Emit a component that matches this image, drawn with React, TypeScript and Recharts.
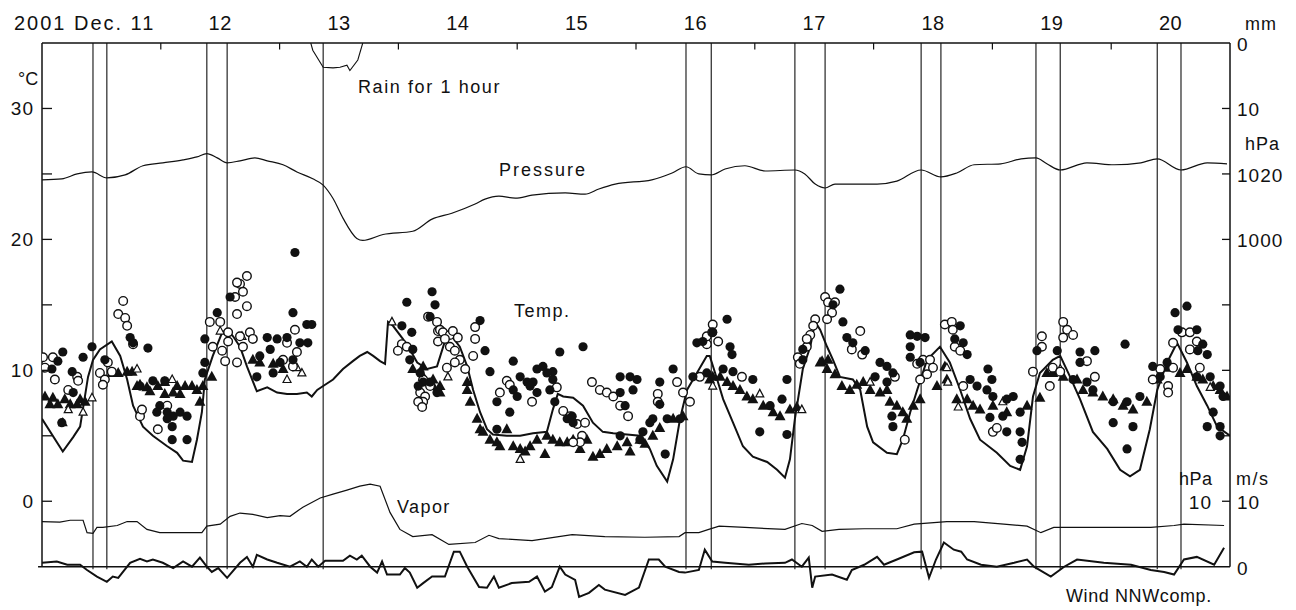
import { ComposedChart, Line, Scatter, XAxis, YAxis, ReferenceLine } from 'recharts'

// hours from Dec 11 00:00
const dayTicks = [12, 36, 60, 84, 108, 132, 156, 180, 204, 228]
const dayLabels = ['2001 Dec. 11', '12', '13', '14', '15', '16', '17', '18', '19', '20']
const midnightTicks = [24, 48, 72, 96, 120, 144, 168, 192, 216]
const sunLines = [10.3, 13.1, 33.3, 37.4, 56.8, 130.1, 135.2, 152.1, 158.2, 177.6, 181.6, 200.8, 205.7, 225.3, 230.1]

const leftTicks = [-5, 0, 5, 10, 15, 20, 25, 30, 35]
const leftTickLabels = ['', '0', '', '10', '', '20', '', '30', '']
// right axis shares the temperature scale: 35 = 0 mm, 25 = 1020 hPa, -5 = 0 hPa / 0 m/s
const rightTicks = [35, 30, 25, 20, 15, 10, 5, 0, -5]
const rightTickLabels = ['0', '10', '1020', '1000', '', '', '', '10', '0']
const rightInnerLabels = ['', '', '', '', '', '', '', '10', '']

const rainPoints = [[54.3, 0], [54.7, 1.1], [56.8, 3.7], [58.8, 3.8], [60.2, 3.7], [61.6, 3.4], [62.2, 4.2], [63.8, 2.6], [64.8, 0]]

const pressurePoints = [
  [0, 1018.2], [4.0, 1018.5], [7.1, 1020.0], [10.1, 1020.6], [13.1, 1018.8], [16.8, 1019.7], [20.4, 1022.5],
  [24.4, 1023.4], [28.5, 1024.3], [31.3, 1025.2], [33.3, 1026.2], [35.4, 1024.9], [37.4, 1023.4], [40.0, 1024.0],
  [43.0, 1024.9], [45.5, 1024.0], [48.7, 1022.8], [51.5, 1020.6], [54.7, 1018.5], [56.8, 1016.6], [58.8, 1012.5],
  [60.8, 1006.5], [63.6, 1000.3], [64.8, 999.7], [68.9, 1001.5], [74.9, 1002.5], [78.8, 1006.2], [82.8, 1008.0],
  [87.5, 1010.8], [89.5, 1012.3], [92.3, 1013.2], [95.6, 1012.6], [99.0, 1013.5], [105.7, 1014.2], [109.7, 1013.8],
  [112.5, 1015.4], [115.8, 1016.9], [123.2, 1018.2], [127.3, 1020.3], [130.1, 1022.2], [132.7, 1020.0],
  [135.2, 1019.7], [138.0, 1021.5], [142.0, 1022.5], [146.1, 1020.9], [152.1, 1021.2], [154.1, 1020.0],
  [156.2, 1016.9], [158.2, 1015.7], [160.2, 1016.9], [166.1, 1016.9], [168.7, 1016.9], [172.7, 1017.8],
  [177.6, 1021.2], [181.6, 1019.1], [184.8, 1020.3], [188.3, 1022.8], [193.7, 1023.1], [197.8, 1024.6],
  [200.8, 1024.9], [203.0, 1023.1], [205.7, 1021.2], [211.1, 1023.4], [216.6, 1022.8], [222.0, 1023.4],
  [225.3, 1024.6], [230.1, 1021.2], [235.4, 1023.4], [239.4, 1023.1],
]

const vaporPoints = [
  [0, 6.9], [3.6, 6.8], [5.7, 7.1], [8.3, 7.1], [9.1, 5.2], [10.3, 5.1], [11.1, 6.0], [12.3, 6.0], [15.2, 6.3],
  [17.2, 6.9], [19.2, 6.9], [21.2, 5.7], [23.8, 5.2], [26.5, 5.2], [30.3, 5.2], [32.3, 5.2], [33.3, 6.2], [36.0, 6.5],
  [38.0, 7.7], [40.0, 8.2], [42.6, 8.0], [45.5, 7.5], [48.1, 7.8], [50.1, 7.7], [52.7, 9.1], [56.2, 10.5],
  [58.8, 11.1], [61.6, 11.7], [64.2, 12.3], [66.3, 12.6], [68.3, 12.3], [70.3, 8.3], [72.3, 5.7], [74.9, 4.6],
  [78.8, 4.9], [82.2, 3.4], [87.5, 3.7], [90.3, 4.8], [92.3, 4.3], [99.0, 4.0], [107.1, 4.9], [113.7, 4.6],
  [121.8, 4.5], [128.7, 4.6], [129.9, 5.2], [132.7, 5.2], [134.7, 5.7], [136.8, 6.2], [142.0, 6.0], [150.1, 5.7],
  [153.5, 6.6], [155.6, 6.3], [157.6, 5.4], [161.0, 5.7], [166.1, 5.8], [172.7, 5.8], [176.2, 6.5], [182.8, 6.9],
  [188.3, 6.9], [194.3, 6.5], [199.0, 6.2], [201.8, 5.2], [204.4, 6.0], [213.1, 6.0], [224.0, 6.0], [228.7, 6.3],
  [230.7, 6.5], [238.8, 6.3],
]

const windPoints = [
  [0, 0.6], [3.0, 0.8], [5.1, 0.3], [7.7, 0.3], [9.1, -0.5], [11.1, -1.5], [13.1, -2.3], [14.3, -1.5], [15.4, -1.7],
  [17.8, 0.6], [19.8, 1.2], [21.2, 0.8], [22.4, 1.1], [24.4, 0.6], [26.5, -0.2], [28.5, 0.8], [30.3, 0], [31.9, 1.4],
  [33.3, 0], [34.3, -0.8], [35.6, -0.2], [37.4, -1.7], [40.0, 0.6], [41.4, 1.5], [42.6, 0], [43.4, 1.8], [45.5, 1.1],
  [47.5, 0.6], [50.1, 0], [52.1, 0.8], [53.5, 0], [54.5, 1.1], [55.8, 0], [57.2, 0.9], [60.8, 0.9], [62.2, 1.7],
  [63.6, 1.1], [64.6, 1.7], [66.3, 0], [67.7, -0.9], [68.7, 0.8], [69.7, -1.2], [72.3, -1.2], [73.3, -0.2],
  [74.3, -0.9], [75.8, -3.2], [77.0, -2.5], [78.8, -1.5], [81.4, -1.5], [83.2, 2.3], [84.4, 2.3], [85.9, 0],
  [88.3, -3.1], [89.9, -3.2], [91.3, -1.5], [92.3, -3.2], [94.9, -2.5], [98.4, -2.3], [100.0, -1.5], [101.6, -3.8],
  [103.0, -3.1], [104.6, 0], [105.7, -1.2], [107.7, -2.0], [108.5, -4.6], [110.5, -4.0], [112.5, -2.8],
  [113.7, -3.5], [117.8, -4.3], [120.6, -3.2], [122.6, 1.1], [124.6, 1.1], [125.9, 0], [128.7, -0.8], [129.9, -0.9],
  [132.7, -0.5], [133.9, 2.6], [135.4, 0.8], [138.0, 0.6], [142.8, 0.3], [146.1, 0.5], [150.1, 0.6], [151.5, 1.1],
  [153.5, 0], [154.9, 1.4], [155.6, -3.2], [156.2, -1.5], [159.6, -1.2], [162.6, -2.0], [163.6, -0.5], [166.1, 0.3],
  [168.7, 1.5], [170.1, 0.3], [172.7, 1.1], [176.2, 2.2], [177.8, 2.3], [179.2, -1.7], [180.6, 1.1], [182.2, 3.7],
  [184.2, 2.6], [185.7, 2.3], [186.9, 1.1], [189.7, 0.3], [192.9, 0], [196.4, 0.6], [199.0, 1.1], [200.4, 0],
  [203.8, -1.5], [206.5, 0], [209.1, 1.1], [214.5, 0.6], [220.0, 0.3], [224.0, -0.5], [226.7, -0.8], [228.7, -1.2],
  [230.7, 1.1], [233.3, 1.5], [236.8, 0.3], [238.8, 2.9],
]

const tempLinePoints = [
  [0, 6.3], [4.2, 3.8], [6.3, 4.9], [7.7, 5.7], [9.3, 9.5], [10.3, 10.8], [11.7, 11.6], [14.1, 12.2], [15.8, 11.1],
  [17.2, 9.3], [18.4, 7.3], [20.4, 5.7], [22.4, 5.0], [25.3, 4.2], [27.3, 3.7], [28.5, 3.1], [30.3, 3.0], [31.3, 4.7],
  [32.3, 6.8], [32.9, 9.3], [34.5, 11.1], [36.4, 12.9], [37.4, 13.1], [38.6, 12.6], [40.0, 11.8], [41.4, 10.3],
  [43.4, 8.4], [45.5, 8.7], [47.5, 8.3], [49.5, 8.2], [51.5, 8.2], [53.5, 8.3], [54.5, 8.0], [55.6, 8.5], [56.8, 8.8],
  [58.8, 9.3], [60.8, 10.1], [62.8, 10.7], [64.2, 11.1], [65.7, 11.4], [66.9, 11.1], [68.3, 10.7], [69.3, 10.5],
  [69.9, 13.7], [70.9, 13.4], [72.9, 12.4], [74.3, 11.6], [75.8, 10.6], [77.8, 10.1], [79.8, 10.3], [81.8, 12.7],
  [83.0, 12.5], [84.4, 11.8], [85.9, 10.3], [87.1, 8.5], [88.5, 6.8], [89.9, 5.5], [91.1, 5.1], [93.9, 5.0],
  [96.6, 5.0], [99.2, 5.2], [102.0, 5.3], [103.2, 7.0], [104.2, 8.2], [105.3, 8.0], [107.3, 7.9], [109.3, 7.3],
  [111.3, 6.0], [113.3, 5.3], [115.4, 5.2], [118.2, 5.1], [120.8, 5.0], [122.8, 4.0], [124.2, 2.7], [126.3, 1.5],
  [127.5, 3.2], [128.9, 6.3], [130.3, 8.5], [132.3, 9.8], [134.3, 11.1], [134.9, 11.1], [136.4, 9.3], [137.6, 7.8],
  [139.6, 6.0], [141.6, 4.2], [143.6, 3.4], [146.5, 3.0], [148.5, 2.4], [150.1, 1.8], [151.1, 3.2], [152.1, 6.3],
  [153.7, 10.1], [155.2, 11.8], [156.2, 13.7], [157.2, 13.1], [158.6, 11.8], [159.8, 10.8], [161.2, 9.5],
  [163.8, 9.3], [165.3, 8.5], [166.7, 5.7], [167.9, 4.5], [170.7, 3.7], [172.7, 3.6], [173.9, 4.7], [175.4, 6.8],
  [176.8, 8.5], [178.8, 10.8], [181.4, 11.8], [183.4, 10.6], [185.5, 8.5], [187.5, 6.3], [189.5, 4.7], [192.9, 3.7],
  [195.6, 2.7], [197.6, 2.4], [199.0, 4.2], [200.2, 8.0], [201.6, 9.8], [204.2, 10.8], [205.7, 11.1], [207.7, 9.5],
  [209.7, 7.8], [212.3, 5.3], [215.2, 4.0], [217.8, 2.4], [219.8, 1.9], [221.8, 2.4], [223.8, 5.5], [225.3, 8.5],
  [227.3, 10.6], [229.3, 12.1], [231.3, 10.6], [233.3, 8.8], [235.4, 7.3], [237.4, 5.7], [240, 5.0],
]

const filledCircles = [
  [4.2, 11.4], [3.2, 10.7], [2.0, 10.1], [6.1, 9.9], [8.3, 11.0], [10.1, 11.8], [6.3, 8.3], [4.0, 6.0], [12.7, 10.8],
  [17.8, 12.5], [18.4, 12.1], [21.4, 11.7], [19.8, 8.8], [22.4, 9.2], [24.8, 9.2], [23.8, 7.3], [25.3, 6.8],
  [26.5, 6.5], [27.9, 6.8], [29.3, 6.5], [23.2, 6.8], [26.3, 5.7], [25.3, 6.3], [26.3, 4.7], [29.3, 4.7], [32.5, 9.8],
  [32.9, 10.6], [32.9, 12.4], [35.4, 14.4], [38.0, 15.6], [45.5, 12.5], [47.5, 12.4], [49.5, 12.5], [52.1, 12.1],
  [53.7, 12.1], [50.7, 14.4], [53.5, 13.5], [54.5, 13.5], [44.0, 11.1], [46.1, 11.6], [48.1, 10.6], [43.4, 9.5],
  [46.7, 9.8], [50.7, 10.8], [51.1, 19.0], [73.7, 15.2], [78.8, 16.0], [79.4, 15.0], [72.7, 13.4], [74.7, 12.9],
  [74.9, 11.6], [74.3, 10.8], [76.4, 9.8], [77.0, 9.1], [76.0, 8.8], [78.4, 9.1], [79.8, 8.3], [78.4, 14.1],
  [88.5, 13.8], [89.5, 11.5], [90.5, 9.9], [91.9, 7.6], [95.2, 10.7], [96.6, 9.5], [100.0, 10.1], [101.2, 10.3],
  [103.2, 9.9], [98.0, 9.1], [99.2, 9.1], [95.2, 8.5], [104.6, 11.4], [109.3, 11.8], [103.6, 7.6], [116.8, 9.5],
  [118.8, 9.5], [120.2, 9.3], [119.4, 8.5], [116.8, 8.3], [117.8, 7.3], [124.8, 9.1], [124.8, 7.4], [123.4, 6.3],
  [126.3, 6.3], [127.5, 10.1], [125.9, 3.6], [132.3, 12.1], [133.5, 12.2], [135.5, 12.9], [138.4, 13.9],
  [139.0, 11.8], [139.4, 11.2], [137.6, 10.1], [139.6, 9.9], [143.6, 9.3], [145.0, 5.3], [150.5, 9.3], [150.5, 5.1],
  [149.5, 7.8], [147.1, 7.3], [153.7, 11.6], [153.7, 10.8], [134.3, 9.8], [128.9, 6.3], [131.5, 9.5], [106.1, 6.3],
  [107.3, 6.0], [107.1, 6.5], [91.9, 5.5], [94.5, 6.8], [96.0, 8.0], [98.6, 8.8], [100.0, 8.3], [102.6, 8.5],
  [103.2, 9.3], [102.0, 9.8], [116.8, 5.0], [120.8, 4.7], [121.4, 5.3], [122.8, 6.0], [161.2, 16.2], [159.8, 15.0],
  [161.8, 13.7], [162.6, 12.5], [163.8, 12.1], [166.3, 11.5], [169.3, 10.6], [170.7, 10.3], [171.9, 9.8],
  [168.3, 9.5], [170.7, 9.1], [171.7, 6.5], [171.9, 5.7], [175.4, 12.7], [176.8, 12.6], [175.4, 11.8], [175.4, 11.0],
  [177.4, 10.6], [178.4, 12.5], [185.5, 13.4], [184.4, 12.4], [186.1, 12.1], [186.9, 11.2], [191.1, 10.1],
  [191.9, 9.3], [187.5, 9.3], [188.9, 8.8], [190.9, 8.5], [192.1, 8.0], [194.9, 7.8], [196.2, 8.0], [191.5, 6.4],
  [194.1, 6.5], [197.6, 6.8], [194.9, 5.3], [197.6, 5.3], [198.0, 4.5], [197.6, 3.2], [201.0, 11.5], [205.1, 11.5],
  [209.7, 11.4], [212.7, 11.5], [218.8, 12.0], [209.7, 10.6], [208.3, 9.3], [211.1, 9.1], [212.3, 8.5], [216.4, 7.6],
  [219.2, 7.6], [221.8, 8.0], [216.4, 6.0], [220.4, 5.7], [219.2, 4.0], [228.9, 14.4], [231.3, 14.9], [229.5, 13.1],
  [233.3, 13.1], [234.5, 12.0], [233.5, 11.5], [235.4, 11.2], [227.3, 10.6], [233.3, 9.5], [236.0, 9.5], [238.0, 8.8],
  [238.6, 8.0], [236.6, 6.8], [238.0, 5.7], [238.0, 5.0], [235.4, 5.7], [224.4, 10.3], [225.9, 9.5],
]

const openCircles = [
  [0.2, 11.0], [2.2, 11.0], [0.6, 10.2], [2.6, 9.3], [7.1, 9.5], [7.3, 9.2], [5.3, 8.5], [16.4, 15.3], [15.4, 14.3],
  [16.8, 14.0], [17.2, 13.4], [18.4, 12.0], [11.7, 9.8], [12.7, 9.3], [12.3, 8.9], [14.1, 9.9], [13.3, 10.6],
  [19.8, 6.5], [23.4, 5.5], [25.3, 7.3], [20.2, 7.0], [40.0, 16.6], [40.6, 16.0], [39.0, 15.6], [41.4, 14.9],
  [39.4, 14.3], [39.4, 16.7], [41.4, 17.2], [33.9, 13.7], [36.0, 13.7], [34.5, 11.8], [36.4, 11.5], [37.6, 12.2],
  [37.6, 12.9], [42.0, 12.9], [42.6, 12.4], [40.0, 12.6], [40.6, 11.8], [37.0, 10.7], [39.4, 10.6], [49.5, 12.1],
  [51.1, 13.1], [51.5, 11.4], [48.7, 10.8], [50.7, 10.3], [72.7, 12.0], [71.9, 11.5], [73.7, 11.8], [78.0, 14.1],
  [79.8, 13.7], [80.0, 13.0], [80.0, 12.2], [76.4, 8.3], [77.4, 8.0], [77.0, 7.6], [76.0, 7.6], [76.8, 7.2],
  [80.4, 13.1], [81.0, 12.9], [82.4, 12.7], [83.0, 13.0], [84.0, 12.5], [81.4, 12.4], [82.4, 11.8], [83.4, 11.5],
  [84.4, 10.8], [85.5, 10.1], [83.4, 10.6], [81.8, 10.2], [87.5, 13.3], [87.5, 12.4], [87.1, 11.1], [77.0, 9.3],
  [78.4, 8.8], [92.5, 8.3], [93.9, 9.2], [94.5, 8.9], [99.0, 7.6], [104.0, 8.7], [105.3, 6.9], [106.7, 6.5],
  [108.1, 5.9], [109.7, 6.0], [111.1, 9.1], [112.7, 8.5], [114.1, 8.3], [115.4, 8.0], [116.8, 7.3], [118.4, 6.5],
  [109.1, 5.0], [108.7, 4.5], [107.3, 4.5], [124.4, 8.2], [124.4, 7.6], [128.3, 9.1], [129.5, 8.3], [130.9, 7.6],
  [132.9, 9.5], [134.3, 12.0], [135.5, 13.5], [136.6, 12.2], [134.3, 12.6], [135.4, 12.9], [141.4, 9.5],
  [152.7, 11.0], [153.1, 10.5], [154.5, 11.8], [155.2, 12.7], [156.2, 13.9], [155.8, 13.4], [154.5, 12.4],
  [158.2, 15.6], [158.8, 15.2], [160.2, 15.2], [159.6, 14.4], [165.3, 13.0], [163.6, 11.6], [165.7, 11.2],
  [172.3, 9.5], [176.8, 10.5], [178.0, 10.8], [179.4, 10.8], [180.0, 10.2], [178.8, 9.7], [177.4, 9.3], [182.4, 13.5],
  [183.8, 13.7], [184.0, 13.1], [184.4, 11.8], [185.5, 11.5], [186.1, 8.8], [192.1, 5.3], [192.9, 5.6], [174.3, 4.7],
  [200.2, 9.9], [202.0, 12.6], [202.0, 11.8], [204.2, 10.2], [205.7, 9.9], [206.3, 13.7], [207.1, 13.1],
  [208.3, 12.7], [206.3, 12.5], [211.1, 10.7], [212.7, 9.5], [203.6, 8.8], [224.4, 9.3], [225.9, 10.1], [227.5, 8.8],
  [227.5, 8.3], [230.3, 12.9], [231.9, 12.9], [233.3, 12.2], [228.5, 12.1], [231.9, 11.6], [228.5, 10.2],
  [233.9, 10.2], [158.6, 13.9],
]

const filledTriangles = [
  [0.6, 8.0], [2.2, 7.9], [1.6, 7.4], [3.2, 7.4], [4.6, 7.8], [5.7, 7.4], [7.7, 7.8], [8.7, 7.6], [7.1, 7.4],
  [14.1, 9.8], [15.4, 9.8], [17.2, 9.9], [18.2, 9.9], [19.2, 8.8], [19.8, 8.9], [21.2, 8.7], [21.8, 8.4], [23.4, 8.8],
  [24.8, 9.1], [24.8, 8.2], [27.3, 8.8], [27.9, 8.2], [28.9, 8.8], [30.3, 8.8], [31.3, 8.5], [32.5, 8.8], [34.3, 9.5],
  [31.9, 7.6], [26.5, 8.3], [42.6, 10.8], [44.0, 10.6], [46.7, 10.5], [48.7, 10.1], [74.9, 10.1], [77.0, 9.5],
  [79.0, 8.8], [80.4, 8.3], [77.0, 10.3], [79.0, 9.3], [80.4, 8.8], [85.9, 9.1], [85.9, 8.5], [86.5, 7.6],
  [87.9, 6.3], [88.5, 5.5], [89.1, 5.3], [90.5, 4.7], [91.9, 4.5], [93.9, 5.5], [95.2, 4.2], [96.6, 4.0], [98.6, 4.2],
  [100.0, 4.7], [102.0, 5.0], [103.2, 4.7], [104.6, 4.5], [106.1, 4.5], [107.3, 4.7], [110.1, 4.7], [111.3, 3.4],
  [114.1, 4.0], [116.2, 4.2], [118.2, 4.5], [120.8, 4.7], [123.4, 5.0], [124.8, 5.6], [127.5, 6.3], [129.5, 6.5],
  [92.5, 4.2], [97.6, 3.8], [101.6, 3.6], [108.7, 4.0], [112.7, 3.6], [118.8, 3.8], [121.8, 4.4], [134.9, 9.3],
  [135.5, 9.5], [137.0, 9.5], [138.4, 9.1], [139.6, 8.8], [141.0, 8.5], [142.4, 8.0], [143.6, 7.8], [145.7, 7.3],
  [147.7, 6.8], [149.1, 6.5], [151.1, 7.0], [152.5, 7.2], [157.6, 10.7], [158.8, 10.8], [157.2, 10.6], [158.6, 10.1],
  [160.2, 9.7], [161.6, 8.8], [163.2, 8.5], [164.6, 8.9], [165.9, 9.1], [167.3, 8.5], [169.3, 8.3], [170.7, 8.5],
  [171.3, 7.6], [172.7, 7.3], [173.9, 6.8], [174.7, 6.3], [176.0, 7.3], [177.4, 7.8], [180.8, 8.8], [182.4, 10.3],
  [182.8, 9.3], [184.8, 7.8], [186.9, 7.8], [188.1, 7.3], [189.5, 7.0], [192.1, 7.3], [194.9, 6.8], [199.0, 7.3],
  [201.6, 7.9], [203.0, 9.8], [204.2, 9.8], [206.3, 9.5], [209.1, 9.3], [210.3, 8.5], [212.3, 8.3], [214.3, 8.0],
  [216.4, 7.8], [218.4, 7.3], [220.4, 7.0], [223.2, 7.6], [225.3, 9.3], [227.3, 10.2], [229.9, 9.8], [231.3, 10.1],
  [233.3, 9.5], [234.5, 9.3], [236.6, 8.8], [238.0, 8.5], [239.4, 8.0],
]

const openTriangles = [
  [70.7, 13.7], [5.3, 7.0], [8.3, 6.8], [4.2, 6.0], [26.3, 9.3], [19.2, 10.1], [36.0, 13.0], [40.4, 12.6],
  [49.5, 9.3], [52.5, 9.8], [51.5, 10.2], [10.1, 7.9], [82.0, 9.5], [96.6, 3.2], [153.5, 7.0], [145.0, 8.2],
  [135.5, 8.8], [182.8, 10.2], [183.0, 9.1], [185.1, 7.2], [167.3, 9.1], [236.0, 8.7], [194.1, 7.6], [205.7, 10.1],
]

const PLOT_LEFT = 42
const PLOT_RIGHT = 1230
const INK = '#111'
const FONT = "'Liberation Sans', Arial, sans-serif"

const toRows = (pts: number[][], key: string) => pts.map(([h, v]) => ({ h, [key]: v }))

function DayTick({ x, index }: any) {
  const first = index === 0
  return (
    <text x={first ? x + 54 : x} y={30} textAnchor={first ? 'end' : 'middle'} fontSize={20}
      letterSpacing={first ? 2 : 0.5} fill={INK} fontFamily={FONT}>
      {dayLabels[index]}
    </text>
  )
}

function LeftTick({ y, payload }: any) {
  const i = leftTicks.indexOf(payload.value)
  const v = payload.value
  return (
    <g>
      {v > -5 && v < 35 && <line x1={PLOT_LEFT} x2={PLOT_LEFT + 10} y1={y} y2={y} stroke={INK} strokeWidth={1.3} />}
      {leftTickLabels[i] && (
        <text x={34} y={y + 7} textAnchor="end" fontSize={19} letterSpacing={1} fill={INK} fontFamily={FONT}>
          {leftTickLabels[i]}
        </text>
      )}
    </g>
  )
}

function RightTick({ y, payload }: any) {
  const i = rightTicks.indexOf(payload.value)
  const v = payload.value
  return (
    <g>
      {v > -5 && v < 35 && <line x1={PLOT_RIGHT - 8} x2={PLOT_RIGHT} y1={y} y2={y} stroke={INK} strokeWidth={1.3} />}
      {rightTickLabels[i] && (
        <text x={PLOT_RIGHT + 7} y={y + 8} fontSize={19} letterSpacing={1} fill={INK} fontFamily={FONT}>
          {rightTickLabels[i]}
        </text>
      )}
      {rightInnerLabels[i] && (
        <text x={PLOT_RIGHT - 18} y={y + 8} textAnchor="end" fontSize={19} letterSpacing={1} fill={INK} fontFamily={FONT}>
          {rightInnerLabels[i]}
        </text>
      )}
    </g>
  )
}

const circleFilled = (p: any) => <circle cx={p.cx} cy={p.cy} r={4.6} fill={INK} />
const circleOpen = (p: any) => <circle cx={p.cx} cy={p.cy} r={4.3} fill="#fff" stroke={INK} strokeWidth={1.4} />
const triFilled = (p: any) => (
  <path d={`M${p.cx},${p.cy - 6} L${p.cx + 5.5},${p.cy + 4} L${p.cx - 5.5},${p.cy + 4} Z`} fill={INK} />
)
const triOpen = (p: any) => (
  <path d={`M${p.cx},${p.cy - 4.5} L${p.cx + 4},${p.cy + 3} L${p.cx - 4},${p.cy + 3} Z`} fill="#fff" stroke={INK} strokeWidth={1.2} />
)

const textStyle = { fontFamily: FONT, fill: INK } as const

export default function App() {
  return (
    <div style={{ position: 'absolute', left: 0, top: 0, width: 1296, height: 610, background: '#fff' }}>
      <ComposedChart width={1296} height={610} margin={{ top: 0, right: 0, bottom: 4, left: 0 }}>
        <XAxis xAxisId={0} type="number" dataKey="h" orientation="top" domain={[0, 240]} allowDataOverflow
          ticks={dayTicks} interval={0} height={43} tickLine={false} tick={<DayTick />}
          axisLine={{ stroke: INK, strokeWidth: 1.5 }} />
        <YAxis yAxisId="temp" type="number" dataKey="t" domain={[-8, 35]} allowDataOverflow width={42}
          ticks={leftTicks} interval={0} axisLine={false} tickLine={false} tick={<LeftTick />} />
        <YAxis yAxisId="right" type="number" orientation="right" domain={[-8, 35]} allowDataOverflow width={66}
          ticks={rightTicks} interval={0} axisLine={false} tickLine={false} tick={<RightTick />} />
        <YAxis yAxisId="rain" type="number" hide reversed domain={[0, 86]} allowDataOverflow />
        <YAxis yAxisId="p" type="number" hide domain={[888, 1060]} allowDataOverflow />
        <YAxis yAxisId="vw" type="number" hide domain={[-6, 80]} allowDataOverflow />

        {/* frame */}
        <ReferenceLine yAxisId="temp" segment={[{ x: 0, y: 35 }, { x: 0, y: -5 }]} stroke={INK} strokeWidth={1.5} />
        <ReferenceLine yAxisId="temp" segment={[{ x: 240, y: 35 }, { x: 240, y: -5 }]} stroke={INK} strokeWidth={1.5} />
        <ReferenceLine yAxisId="temp" segment={[{ x: -0.8, y: -5 }, { x: 240, y: -5 }]} stroke={INK} strokeWidth={1.6} ifOverflow="visible" />
        {midnightTicks.map((h) => (
          <ReferenceLine key={`m${h}`} yAxisId="temp" segment={[{ x: h, y: 35 }, { x: h, y: 34.5 }]} stroke={INK} strokeWidth={1.2} />
        ))}
        {sunLines.map((h) => (
          <ReferenceLine key={`s${h}`} yAxisId="temp" segment={[{ x: h, y: 35 }, { x: h, y: -5.2 }]} stroke={INK} strokeWidth={1.1} />
        ))}

        <Line yAxisId="rain" data={toRows(rainPoints, 'r')} dataKey="r" type="linear" stroke={INK} strokeWidth={1.1} dot={false} isAnimationActive={false} />
        <Line yAxisId="p" data={toRows(pressurePoints, 'p')} dataKey="p" type="monotone" stroke={INK} strokeWidth={1.2} dot={false} isAnimationActive={false} />
        <Line yAxisId="vw" data={toRows(vaporPoints, 'v')} dataKey="v" type="linear" stroke={INK} strokeWidth={1.2} dot={false} isAnimationActive={false} />
        <Line yAxisId="vw" data={toRows(windPoints, 'w')} dataKey="w" type="linear" stroke={INK} strokeWidth={2} dot={false} isAnimationActive={false} />

        <Scatter yAxisId="temp" data={toRows(filledTriangles, 't')} shape={triFilled} isAnimationActive={false} />
        <Scatter yAxisId="temp" data={toRows(openTriangles, 't')} shape={triOpen} isAnimationActive={false} />
        <Scatter yAxisId="temp" data={toRows(openCircles, 't')} shape={circleOpen} isAnimationActive={false} />
        <Scatter yAxisId="temp" data={toRows(filledCircles, 't')} shape={circleFilled} isAnimationActive={false} />
        <Line yAxisId="temp" data={toRows(tempLinePoints, 't')} dataKey="t" type="linear" stroke={INK} strokeWidth={2} dot={false} isAnimationActive={false} />
      </ComposedChart>

      <svg width={1296} height={610} style={{ position: 'absolute', left: 0, top: 0, pointerEvents: 'none' }}>
        <text x={18} y={85} fontSize={18} {...textStyle}>°C</text>
        <text x={358} y={93} fontSize={18} letterSpacing={1.6} {...textStyle}>Rain for 1 hour</text>
        <text x={499} y={176} fontSize={18} letterSpacing={2} {...textStyle}>Pressure</text>
        <text x={514} y={317} fontSize={18} letterSpacing={1.5} {...textStyle}>Temp.</text>
        <text x={397} y={513} fontSize={18} letterSpacing={1.4} {...textStyle}>Vapor</text>
        <text x={1066} y={602} fontSize={18} letterSpacing={0.6} {...textStyle}>Wind NNWcomp.</text>
        <text x={1245} y={30} fontSize={18} letterSpacing={1} {...textStyle}>mm</text>
        <text x={1245} y={150} fontSize={18} letterSpacing={1} {...textStyle}>hPa</text>
        <text x={1179} y={485} fontSize={18} letterSpacing={0.5} {...textStyle}>hPa</text>
        <text x={1236} y={485} fontSize={18} letterSpacing={1.5} {...textStyle}>m/s</text>
      </svg>
    </div>
  )
}
